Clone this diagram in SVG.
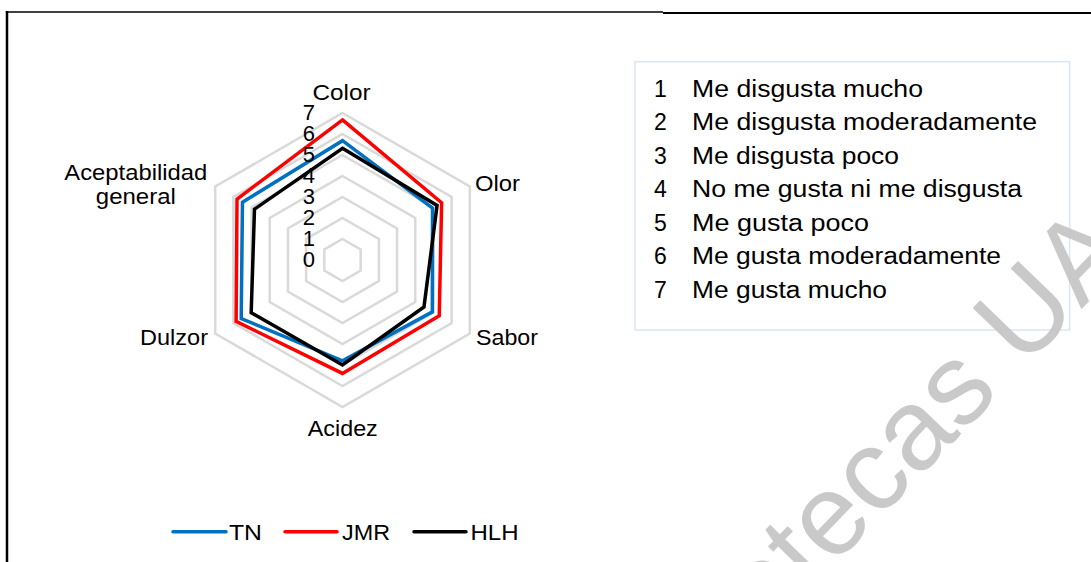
<svg xmlns="http://www.w3.org/2000/svg" width="1091" height="562" viewBox="0 0 1091 562">
<style>
.t{font-family:"Liberation Sans",Arial,sans-serif;fill:#000;}
.ax{font-size:22px;}
.num{font-size:22px;}
.lg{font-size:23px;}
.grid{fill:none;stroke:#d9d9d9;stroke-width:2.5;stroke-linejoin:miter;}
.ser{fill:none;stroke-width:3.5;stroke-linejoin:miter;}
.tn{stroke:#0070c0;}
.jmr{stroke:#ff0000;}
.hlh{stroke:#000000;}
.wm{font-family:"Liberation Sans",Arial,sans-serif;font-size:115px;fill:#c4c4c4;opacity:0.9;}
</style>
<rect x="0" y="0" width="1091" height="562" fill="#ffffff"/>
<g id="frame">
<line x1="7" y1="11" x2="7" y2="562" stroke="#000" stroke-width="2.5"/>
<line x1="5.8" y1="12" x2="663" y2="12" stroke="#000" stroke-width="1.5"/>
<line x1="663" y1="13" x2="1091" y2="13" stroke="#000" stroke-width="2"/>
</g>
<g id="grid">
<polygon class="grid" points="342.5,239 360.69,249.5 360.69,270.5 342.5,281 324.31,270.5 324.31,249.5"/>
<polygon class="grid" points="342.5,218 378.87,239 378.87,281 342.5,302 306.13,281 306.13,239"/>
<polygon class="grid" points="342.5,197 397.06,228.5 397.06,291.5 342.5,323 287.94,291.5 287.94,228.5"/>
<polygon class="grid" points="342.5,176 415.25,218 415.25,302 342.5,344 269.75,302 269.75,218"/>
<polygon class="grid" points="342.5,155 433.43,207.5 433.43,312.5 342.5,365 251.57,312.5 251.57,207.5"/>
<polygon class="grid" points="342.5,134 451.62,197 451.62,323 342.5,386 233.38,323 233.38,197"/>
<polygon class="grid" points="342.5,113 469.81,186.5 469.81,333.5 342.5,407 215.19,333.5 215.19,186.5"/>
</g>
<g id="connectors">
<polygon id="serie-TN" class="ser tn" points="342.5,140.72 432.52,208.02 432.34,311.87 342.5,360.8 241.2,318.49 242.47,202.25"/>
<polygon id="serie-JMR" class="ser jmr" points="342.5,119.93 441.62,202.77 439.25,315.86 342.5,373.4 236.11,321.43 237.02,199.1"/>
<polygon id="serie-HLH" class="ser hlh" points="342.5,148.28 437.07,205.4 423.97,307.04 342.5,365 251.2,312.71 254.48,209.18"/>
</g>
<g id="scale">
<text class="t num" x="315" y="120" text-anchor="end">7</text>
<text class="t num" x="315" y="141" text-anchor="end">6</text>
<text class="t num" x="315" y="162" text-anchor="end">5</text>
<text class="t num" x="315" y="183" text-anchor="end">4</text>
<text class="t num" x="315" y="204" text-anchor="end">3</text>
<text class="t num" x="315" y="225" text-anchor="end">2</text>
<text class="t num" x="315" y="246" text-anchor="end">1</text>
<text class="t num" x="315" y="267" text-anchor="end">0</text>
</g>
<g id="axis-color"><text class="t ax" x="341.5" y="100" text-anchor="middle" textLength="58" lengthAdjust="spacingAndGlyphs">Color</text></g>
<g id="axis-olor"><text class="t ax" x="475" y="191" textLength="45" lengthAdjust="spacingAndGlyphs">Olor</text></g>
<g id="axis-sabor"><text class="t ax" x="476" y="345" textLength="62" lengthAdjust="spacingAndGlyphs">Sabor</text></g>
<g id="axis-acidez"><text class="t ax" x="342.8" y="436" text-anchor="middle" textLength="70" lengthAdjust="spacingAndGlyphs">Acidez</text></g>
<g id="axis-dulzor"><text class="t ax" x="208" y="345" text-anchor="end" textLength="68" lengthAdjust="spacingAndGlyphs">Dulzor</text></g>
<g id="axis-aceptabilidad">
<text class="t ax" x="135.8" y="180" text-anchor="middle" textLength="143" lengthAdjust="spacingAndGlyphs">Aceptabilidad</text>
<text class="t ax" x="135.8" y="204.3" text-anchor="middle" textLength="80" lengthAdjust="spacingAndGlyphs">general</text>
</g>
<g id="scale-legend">
<rect x="635" y="61.7" width="434.5" height="268.3" fill="#ffffff" stroke="#dae6f4" stroke-width="1.5"/>
<text class="t lg" x="654" y="96.7">1</text>
<text class="t lg" x="692" y="96.7" textLength="231" lengthAdjust="spacingAndGlyphs">Me disgusta mucho</text>
<text class="t lg" x="654" y="130.2">2</text>
<text class="t lg" x="692" y="130.2" textLength="345" lengthAdjust="spacingAndGlyphs">Me disgusta moderadamente</text>
<text class="t lg" x="654" y="163.8">3</text>
<text class="t lg" x="692" y="163.8" textLength="207" lengthAdjust="spacingAndGlyphs">Me disgusta poco</text>
<text class="t lg" x="654" y="197.3">4</text>
<text class="t lg" x="692" y="197.3" textLength="330" lengthAdjust="spacingAndGlyphs">No me gusta ni me disgusta</text>
<text class="t lg" x="654" y="230.9">5</text>
<text class="t lg" x="692" y="230.9" textLength="177" lengthAdjust="spacingAndGlyphs">Me gusta poco</text>
<text class="t lg" x="654" y="264.4">6</text>
<text class="t lg" x="692" y="264.4" textLength="309" lengthAdjust="spacingAndGlyphs">Me gusta moderadamente</text>
<text class="t lg" x="654" y="298">7</text>
<text class="t lg" x="692" y="298" textLength="195" lengthAdjust="spacingAndGlyphs">Me gusta mucho</text>
</g>
<g id="series-legend">
<line x1="173" y1="531.7" x2="226" y2="531.7" class="ser tn" stroke-linecap="round"/>
<text class="t ax" x="229" y="540" textLength="33" lengthAdjust="spacingAndGlyphs">TN</text>
<line x1="285" y1="531.7" x2="337" y2="531.7" class="ser jmr" stroke-linecap="round"/>
<text class="t ax" x="342" y="540" textLength="48" lengthAdjust="spacingAndGlyphs">JMR</text>
<line x1="414" y1="531.7" x2="466" y2="531.7" class="ser hlh" stroke-linecap="round"/>
<text class="t ax" x="470.5" y="540" textLength="48" lengthAdjust="spacingAndGlyphs">HLH</text>
</g>
<g id="watermark">
<text class="wm" transform="translate(766,636) rotate(-46)">otecas UAA</text>
</g>
</svg>
